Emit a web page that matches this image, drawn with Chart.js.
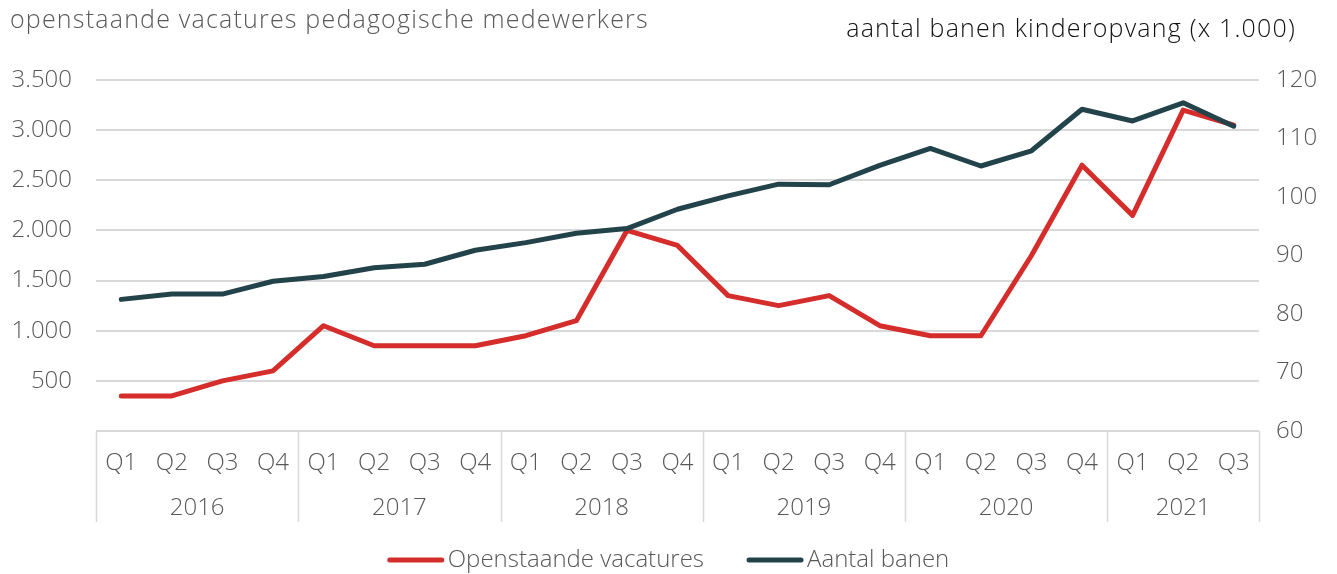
<!DOCTYPE html>
<html lang="nl">
<head>
<meta charset="utf-8">
<title>Vacatures en banen kinderopvang</title>
<script src="https://cdn.jsdelivr.net/npm/chart.js@4.4.1/dist/chart.umd.min.js"></script>
<style>
  html, body { margin: 0; padding: 0; background: #ffffff; }
  #wrap { width: 1337px; height: 574px; position: relative; }
</style>
</head>
<body>
<div id="wrap"><canvas id="chart"></canvas></div>
<script>
// Categories: quarters grouped by year
const years = ['2016', '2017', '2018', '2019', '2020', '2021'];
const quartersPerYear = [4, 4, 4, 4, 4, 3];
const quarterNames = ['Q1', 'Q2', 'Q3', 'Q4'];

// Openstaande vacatures pedagogische medewerkers (left axis)
const vacatures = [350, 350, 500, 600, 1050, 850, 850, 850, 950, 1100, 2000, 1850,
                   1350, 1250, 1350, 1050, 950, 950, 1750, 2650, 2150, 3200, 3050];

// Aantal banen kinderopvang, x 1.000 (right axis)
const banen = [82.5, 83.4, 83.4, 85.6, 86.4, 87.9, 88.5, 90.9, 92.2, 93.8, 94.6, 97.9,
               100.2, 102.2, 102.1, 105.4, 108.3, 105.3, 107.9, 115.0, 113.0, 116.1, 112.1];

const leftTitle = 'openstaande vacatures pedagogische medewerkers';
const rightTitle = 'aantal banen kinderopvang (x 1.000)';
const seriesNames = ['Openstaande vacatures', 'Aantal banen'];

const FONT = '"Open Sans", Lato, sans-serif';
const GREY_TEXT = '#595959';
const GRID = '#d9d9d9';
const RED = '#d42d2b';
const DARK = '#23434a';

// quarter label per point, derived from the year grouping
const labels = [];
quartersPerYear.forEach(n => { for (let i = 0; i < n; i++) labels.push(quarterNames[i]); });

function dotThousands(v) {
  return String(v).replace(/\B(?=(\d{3})+(?!\d))/g, '.');
}

// Year row and group separators beneath the quarter labels
const yearGroups = {
  id: 'yearGroups',
  afterDraw(chart) {
    const x = chart.scales.x;
    const ctx = chart.ctx;
    const cw = x.getPixelForValue(1) - x.getPixelForValue(0);
    const top = chart.chartArea.bottom;
    const bottom = top + 91;
    ctx.save();
    ctx.strokeStyle = GRID;
    ctx.lineWidth = 1.5;
    ctx.font = '300 24px ' + FONT;
    ctx.fillStyle = GREY_TEXT;
    ctx.textAlign = 'center';
    ctx.textBaseline = 'middle';
    let idx = 0;
    const edges = [];
    years.forEach((yr, g) => {
      const n = quartersPerYear[g];
      const left = x.getPixelForValue(idx) - cw / 2;
      const right = x.getPixelForValue(idx + n - 1) + cw / 2;
      edges.push(left);
      if (g === years.length - 1) edges.push(right);
      ctx.fillText(yr, (left + right) / 2, top + 77);
      idx += n;
    });
    edges.forEach(e => {
      const px = Math.round(e) + 0.5;
      ctx.beginPath();
      ctx.moveTo(px, top);
      ctx.lineTo(px, bottom);
      ctx.stroke();
    });
    ctx.restore();
  }
};

// Axis titles above the plot
const axisTitles = {
  id: 'axisTitles',
  afterDraw(chart) {
    const ctx = chart.ctx;
    ctx.save();
    ctx.textBaseline = 'alphabetic';
    ctx.letterSpacing = '1.2px';
    ctx.font = '300 25px ' + FONT;
    ctx.fillStyle = GREY_TEXT;
    ctx.textAlign = 'left';
    ctx.fillText(leftTitle, 10, 28);
    ctx.fillStyle = '#111111';
    ctx.textAlign = 'right';
    ctx.fillText(rightTitle, 1296, 37);
    ctx.restore();
  }
};

// Legend row at the bottom, built from the datasets
const lineLegend = {
  id: 'lineLegend',
  afterDraw(chart) {
    const ctx = chart.ctx;
    const sample = 56, gapText = 4, gapItem = 43;
    const y = 560;
    ctx.save();
    ctx.font = '300 24px ' + FONT;
    ctx.textBaseline = 'middle';
    ctx.textAlign = 'left';
    const items = chart.data.datasets.map(ds => ({
      text: ds.label, color: ds.borderColor, w: ctx.measureText(ds.label).width
    }));
    let total = 0;
    items.forEach((it, i) => { total += sample + gapText + it.w + (i < items.length - 1 ? gapItem : 0); });
    let cx = (chart.width - total) / 2;
    items.forEach(it => {
      ctx.strokeStyle = it.color;
      ctx.lineWidth = 5;
      ctx.lineCap = 'round';
      ctx.beginPath();
      ctx.moveTo(cx + 2, y);
      ctx.lineTo(cx + sample - 2, y);
      ctx.stroke();
      cx += sample + gapText;
      ctx.fillStyle = GREY_TEXT;
      ctx.fillText(it.text, cx, y);
      cx += it.w + gapItem;
    });
    ctx.restore();
  }
};

const tickFont = { family: FONT, size: 24, weight: '300' };

new Chart(document.getElementById('chart'), {
  type: 'line',
  data: {
    labels: labels,
    datasets: [
      {
        label: seriesNames[0],
        data: vacatures,
        yAxisID: 'y',
        borderColor: RED,
        backgroundColor: RED,
        borderWidth: 5,
        pointRadius: 0,
        tension: 0,
        borderJoinStyle: 'round',
        borderCapStyle: 'round',
        order: 2
      },
      {
        label: seriesNames[1],
        data: banen,
        yAxisID: 'y1',
        borderColor: DARK,
        backgroundColor: DARK,
        borderWidth: 5,
        pointRadius: 0,
        tension: 0,
        borderJoinStyle: 'round',
        borderCapStyle: 'round',
        order: 1
      }
    ]
  },
  options: {
    responsive: true,
    maintainAspectRatio: false,
    animation: false,
    layout: { padding: { top: 80, left: 0, right: 0, bottom: 43 } },
    plugins: {
      legend: { display: false },
      tooltip: { enabled: false }
    },
    scales: {
      x: {
        offset: true,
        grid: { display: false },
        border: { display: false },
        ticks: {
          color: GREY_TEXT,
          font: tickFont,
          padding: 10,
          maxRotation: 0,
          autoSkip: false
        },
        afterFit(s) { s.height = 100; }
      },
      y: {
        position: 'left',
        min: 0,
        max: 3500,
        grid: { color: GRID, lineWidth: 2, drawTicks: false },
        border: { display: false },
        ticks: {
          stepSize: 500,
          color: GREY_TEXT,
          font: tickFont,
          padding: 24,
          callback: v => (v === 0 ? '' : dotThousands(v))
        },
        afterFit(s) { s.width = 96; }
      },
      y1: {
        position: 'right',
        min: 60,
        max: 120,
        grid: { display: false },
        border: { display: false },
        ticks: {
          stepSize: 10,
          color: GREY_TEXT,
          font: tickFont,
          padding: 9
        },
        afterFit(s) { s.width = 78; }
      }
    }
  },
  plugins: [yearGroups, axisTitles, lineLegend]
});
</script>
</body>
</html>
